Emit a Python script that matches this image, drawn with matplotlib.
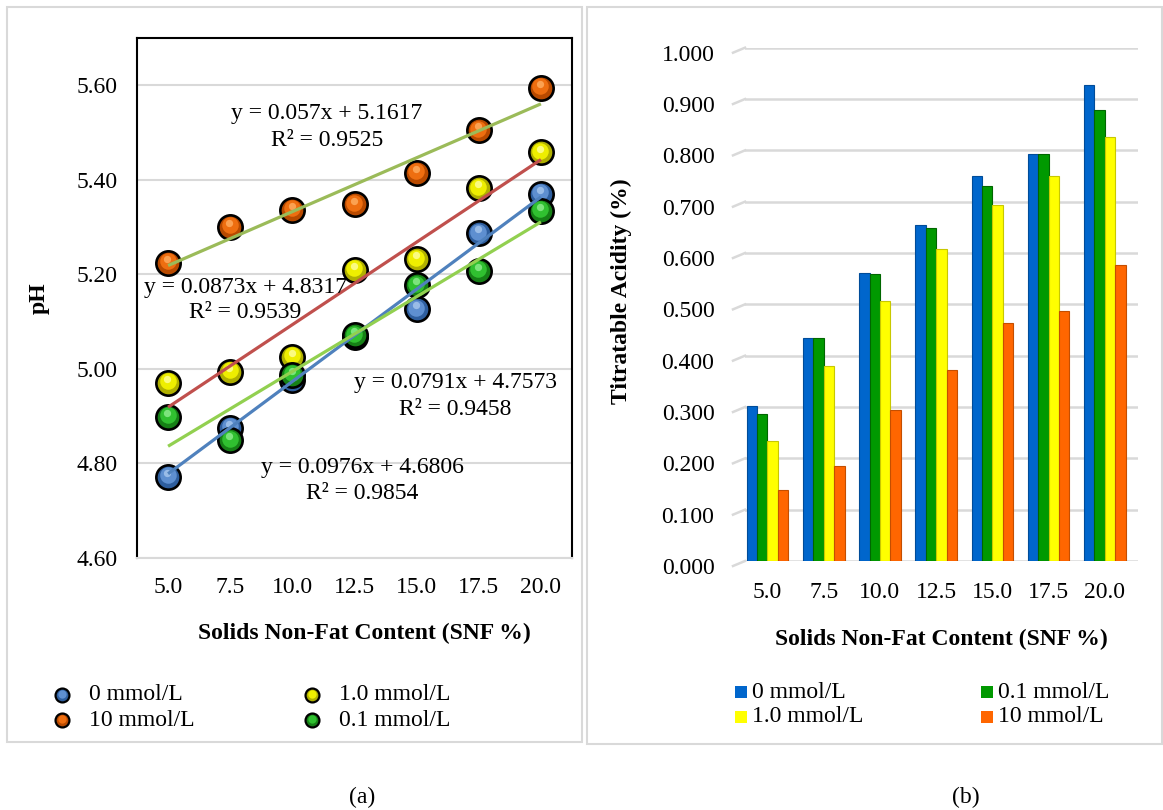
import numpy as np
import matplotlib
matplotlib.use("Agg")
import matplotlib.pyplot as plt
from matplotlib.patches import Rectangle
from matplotlib.lines import Line2D
from matplotlib.transforms import ScaledTranslation, blended_transform_factory

plt.rcParams['font.family'] = ['Liberation Serif', 'DejaVu Serif']
plt.rcParams['font.size'] = 17

W, H = 1163, 810

snf = ["5.0", "7.5", "10.0", "12.5", "15.0", "17.5", "20.0"]
idx = np.arange(1, len(snf) + 1)

# pH of each treatment
ph_0 = [4.771, 4.876, 4.976, 5.067, 5.126, 5.287, 5.370]
ph_10 = [5.225, 5.300, 5.337, 5.348, 5.415, 5.505, 5.595]
ph_1 = [4.970, 4.994, 5.026, 5.209, 5.232, 5.382, 5.458]
ph_01 = [4.899, 4.849, 4.987, 5.071, 5.177, 5.207, 5.334]

# linear trend (slope, intercept, R2) against sample index
fit_0 = (0.0976, 4.6806, 0.9854)
fit_10 = (0.057, 5.1617, 0.9525)
fit_1 = (0.0873, 4.8317, 0.9539)
fit_01 = (0.0791, 4.7573, 0.9458)

# titratable acidity (%)
ta_0 = [0.301, 0.435, 0.562, 0.654, 0.751, 0.792, 0.928]
ta_01 = [0.286, 0.435, 0.559, 0.648, 0.730, 0.792, 0.878]
ta_1 = [0.234, 0.380, 0.507, 0.607, 0.693, 0.751, 0.826]
ta_10 = [0.138, 0.185, 0.294, 0.373, 0.464, 0.488, 0.576]

fig = plt.figure(figsize=(W / 100, H / 100), dpi=100)


def fx(px):
    return px / W


def fy(py):
    return 1 - py / H


# panel frames
for x0, y0, x1, y1 in [(7, 7, 582, 742), (587, 7, 1162, 744)]:
    fig.add_artist(Rectangle((fx(x0), fy(y1)), fx(x1 - x0), (y1 - y0) / H,
                             transform=fig.transFigure, fill=False,
                             ec='#D9D9D9', lw=1.5))

# ---------------- (a) pH ----------------
ax = fig.add_axes([fx(137), fy(558), fx(572 - 137), (558 - 38) / H])
ax.set_xlim(0.5, 7.5)
ax.set_ylim(4.60, 5.70)
ax.set_yticks(np.arange(4.60, 5.61, 0.20))
ax.set_yticklabels([f"{v:.2f}" for v in np.arange(4.60, 5.61, 0.20)])
ax.set_xticks(idx)
ax.set_xticklabels(snf)
ax.tick_params(length=0, pad=14)
ax.tick_params(axis='y', pad=14)
ax.grid(axis='y', color='#D9D9D9', lw=1.5, zorder=0)
ax.set_axisbelow(True)
for s in ['left', 'top', 'right']:
    ax.spines[s].set_color('black')
    ax.spines[s].set_linewidth(1.5)
ax.spines['bottom'].set_color('#D9D9D9')
ax.spines['bottom'].set_linewidth(1.5)

sphere_cols = {
    'blue': ('#2E5E9E', '#5E8FD0', '#A9C8EE'),
    'orange': ('#B84A00', '#EE6E10', '#FFAE62'),
    'yellow': ('#B0B000', '#EEEE00', '#FFFFA0'),
    'green': ('#168016', '#30C030', '#90EE90'),
}


def sphere(axis, xs, ys, name, ms, z):
    dark, mid, light = sphere_cols[name]
    axis.plot(xs, ys, 'o', ms=ms, mfc=dark, mec='black', mew=1.9, zorder=z, clip_on=False)
    t1 = axis.transData + ScaledTranslation(-0.4 / 72, 1.2 / 72, fig.dpi_scale_trans)
    axis.plot(xs, ys, 'o', ms=ms * 0.68, mfc=mid, mew=0, zorder=z, transform=t1, clip_on=False)
    t2 = axis.transData + ScaledTranslation(-0.6 / 72, 2.8 / 72, fig.dpi_scale_trans)
    axis.plot(xs, ys, 'o', ms=ms * 0.3, mfc=light, mew=0, alpha=0.8, zorder=z, transform=t2,
              clip_on=False)


sphere(ax, idx, ph_0, 'blue', 17.5, 3.0)
sphere(ax, idx, ph_10, 'orange', 17.5, 3.1)
sphere(ax, idx, ph_1, 'yellow', 17.5, 3.2)
sphere(ax, idx, ph_01, 'green', 17.5, 3.3)

trend = [(fit_0, '#4F81BD'), (fit_10, '#9BBB59'), (fit_1, '#C0504D'), (fit_01, '#92D050')]
for (m, b, r2), col in trend:
    xl = np.array([idx[0], idx[-1]])
    ax.plot(xl, m * xl + b, color=col, lw=2.3, zorder=5, solid_capstyle='butt')

eq_pos = [(fit_10, 327, 114), (fit_1, 245, 287), (fit_01, 455, 383), (fit_0, 362, 468)]
for (m, b, r2), px, py in eq_pos:
    fig.text(fx(px), fy(py), f"y = {m}x + {b}", ha='center', va='center', zorder=6)
    fig.text(fx(px), fy(py + 26), f"R² = {r2}", ha='center', va='center', zorder=6)

ax.set_ylabel("pH", fontweight='bold')
ax.yaxis.set_label_coords((50 - 137) / 435, 0.5)
fig.text(fx(364), fy(633), "Solids Non-Fat Content (SNF %)", ha='center', va='center',
         fontweight='bold')

# legend (a)
leg_a = [('blue', "0 mmol/L", 62, 695), ('orange', "10 mmol/L", 62, 720),
         ('yellow', "1.0 mmol/L", 312, 695), ('green', "0.1 mmol/L", 312, 720)]
for name, lab, px, py in leg_a:
    dark, mid, light = sphere_cols[name]
    fig.add_artist(Line2D([fx(px)], [fy(py)], marker='o', ms=10, mfc=dark, mec='black',
                          mew=1.6, transform=fig.transFigure))
    fig.add_artist(Line2D([fx(px - 0.5)], [fy(py - 1.5)], marker='o', ms=6, mfc=mid, mew=0,
                          transform=fig.transFigure))
    fig.text(fx(px + 27), fy(py), lab, ha='left', va='center')

# ---------------- (b) titratable acidity ----------------
ax2 = fig.add_axes([fx(745), fy(561), fx(1138 - 745), (561 - 47.7) / H])
pos = np.arange(len(snf))
ax2.set_xlim(-0.40, 6.59)
ax2.set_ylim(0, 1.0)
ax2.set_yticks(np.arange(0, 1.01, 0.1))
ax2.set_yticklabels([f"{v:.3f}" for v in np.arange(0, 1.01, 0.1)])
ax2.set_xticks(pos)
ax2.set_xticklabels(snf)
ax2.tick_params(length=0)
ax2.tick_params(axis='y', pad=22)
ax2.tick_params(axis='x', pad=15)
for s in ax2.spines.values():
    s.set_visible(False)
for lbl in ax2.get_yticklabels():
    lbl.set_transform(lbl.get_transform() + ScaledTranslation(0, -5 / 100, fig.dpi_scale_trans))

# floor / wall gridlines with a small perspective return at the left
bt = blended_transform_factory(ax2.transAxes, ax2.transData)
for v in np.arange(0, 1.01, 0.1):
    ax2.axhline(v, color='#D9D9D9', lw=1.8, zorder=0)
    ax2.plot([-12 / 393, 0], [v - 5 / 513, v], color='#D9D9D9', lw=1.8, transform=bt,
             clip_on=False, zorder=0)

bw = 0.185
bars = [(ta_0, '#0066CC', '#004C99'), (ta_01, '#009900', '#006600'),
        (ta_1, '#FFFF00', '#C8C800'), (ta_10, '#FF6600', '#C44E00')]
for k, (vals, col, edge) in enumerate(bars):
    xs = pos + (k - 1.5) * bw
    ax2.bar(xs, vals, width=bw, color=col, edgecolor=edge, linewidth=0.8, zorder=3)

ax2.set_ylabel("Titratable Acidity (%)", fontweight='bold')
ax2.yaxis.set_label_coords((632 - 745) / 393, 0.526)
fig.text(fx(941), fy(639), "Solids Non-Fat Content (SNF %)", ha='center', va='center',
         fontweight='bold')

leg_b = [('#0066CC', "0 mmol/L", 741, 692), ('#FFFF00', "1.0 mmol/L", 741, 717),
         ('#009900', "0.1 mmol/L", 987, 692), ('#FF6600', "10 mmol/L", 987, 717)]
for col, lab, px, py in leg_b:
    fig.add_artist(Rectangle((fx(px - 6), fy(py + 6)), fx(12), 12 / H, fc=col, ec='none',
                             transform=fig.transFigure))
    fig.text(fx(px + 11), fy(py), lab, ha='left', va='center')

fig.text(fx(362), fy(797), "(a)", ha='center', va='center')
fig.text(fx(966), fy(797), "(b)", ha='center', va='center')

fig.savefig("out.png", dpi=100)
